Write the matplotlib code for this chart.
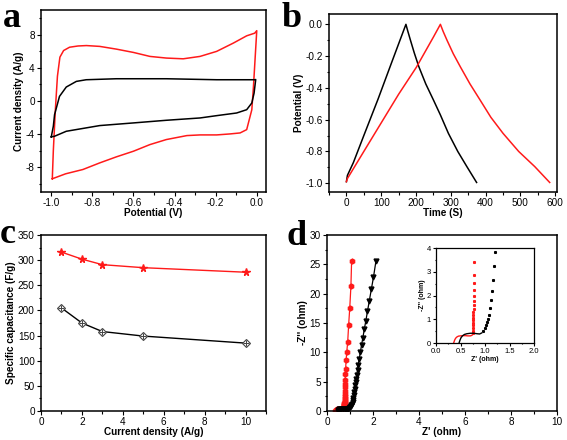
import numpy as np
import matplotlib
matplotlib.use('Agg')
import matplotlib.pyplot as plt
from matplotlib.ticker import AutoMinorLocator

plt.rcParams['font.family'] = ['Liberation Sans', 'DejaVu Sans']
plt.rcParams['axes.unicode_minus'] = False

# (a) CV loops
red_cv_v = [-0.995, -0.99, -0.98, -0.97, -0.958, -0.94, -0.911, -0.87, -0.829, -0.764, -0.683, -0.6, -0.52,
            -0.44, -0.358, -0.276, -0.195, -0.114, -0.049, -0.01, 0.0,
            -0.016, -0.024, -0.049, -0.081, -0.13, -0.195, -0.276, -0.34, -0.44, -0.52, -0.6, -0.683,
            -0.764, -0.846, -0.93, -0.995]
red_cv_i = [-9.4, -6.0, -1.0, 3.0, 5.3, 6.1, 6.5, 6.65, 6.7, 6.6, 6.27, 5.87, 5.39,
            5.19, 5.1, 5.39, 6.0, 7.0, 7.88, 8.2, 8.5,
            1.77, -1.05, -3.46, -3.86, -3.98, -4.1, -4.1, -4.18, -4.66, -5.27, -6.07, -6.75,
            -7.48, -8.28, -8.8, -9.4]
black_cv_v = [-1.0, -0.99, -0.984, -0.96, -0.927, -0.878, -0.83, -0.683, -0.44, -0.195, -0.049, -0.008,
              -0.005, -0.013, -0.024, -0.049, -0.098, -0.195, -0.276, -0.44, -0.6, -0.764, -0.927, -0.984, -1.0]
black_cv_i = [-4.34, -3.05, -1.65, 0.56, 1.69, 2.37, 2.57, 2.69, 2.69, 2.57, 2.57, 2.57,
              2.6, 0.96, -0.24, -1.05, -1.45, -1.77, -2.05, -2.33, -2.65, -2.97, -3.66, -4.26, -4.34]

# (b) charge/discharge
black_gcd_t = [0, 3, 20, 50, 91, 130, 171, 176, 184, 195, 208, 228, 250, 270, 293, 320, 346, 374]
black_gcd_v = [-0.99, -0.95, -0.87, -0.70, -0.47, -0.24, 0.0, -0.04, -0.10, -0.18, -0.266, -0.375,
               -0.476, -0.57, -0.686, -0.80, -0.895, -0.995]
red_gcd_t = [0, 3, 50, 100, 150, 201, 250, 270, 278, 289, 307, 327, 355, 384, 415, 450, 495, 541, 584]
red_gcd_v = [-0.99, -0.97, -0.80, -0.62, -0.44, -0.27, -0.08, 0.0, -0.045, -0.10, -0.185, -0.266,
             -0.375, -0.476, -0.585, -0.686, -0.80, -0.895, -0.995]

# (c) rate capability
current = [1, 2, 3, 5, 10]
red_cap = [316, 302, 291, 285, 276]
black_cap = [205, 175, 158, 149, 135]

# (d) Nyquist
red_arc_re = [0.36, 0.38, 0.40, 0.43, 0.46, 0.50, 0.55, 0.60, 0.65, 0.70, 0.73, 0.75, 0.76]
red_arc_im = [0.0, 0.12, 0.20, 0.26, 0.29, 0.30, 0.31, 0.31, 0.30, 0.30, 0.32, 0.36, 0.40]
red_tail_re = [0.76, 0.76, 0.76, 0.76, 0.76, 0.76, 0.76, 0.76, 0.76, 0.77, 0.77, 0.77, 0.77, 0.77, 0.77,
               0.77, 0.77, 0.78, 0.78, 0.79, 0.80, 0.81, 0.83, 0.86, 0.90, 0.94, 0.99, 1.04, 1.07]
red_tail_im = [0.42, 0.52, 0.63, 0.74, 0.84, 0.95, 1.05, 1.16, 1.29, 1.43, 1.60, 1.78, 1.99, 2.25, 2.53,
               2.88, 3.40, 4.1, 4.67, 5.35, 6.26, 7.2, 8.65, 10.1, 11.8, 14.6, 17.6, 21.3, 25.6]
black_arc_re = [0.47, 0.49, 0.51, 0.54, 0.58, 0.63, 0.70, 0.77, 0.84, 0.89, 0.93]
black_arc_im = [0.0, 0.12, 0.22, 0.30, 0.36, 0.39, 0.41, 0.41, 0.39, 0.38, 0.42]
black_tail_re = [0.96, 0.99, 1.02, 1.04, 1.06, 1.09, 1.11, 1.13, 1.14, 1.17, 1.18, 1.21,
                 1.23, 1.25, 1.27, 1.29, 1.33, 1.36, 1.40, 1.45, 1.50, 1.56, 1.62, 1.69, 1.76,
                 1.84, 1.93, 2.02, 2.13]
black_tail_im = [0.52, 0.63, 0.74, 0.87, 1.01, 1.19, 1.47, 1.82, 2.18, 2.67, 3.23, 3.83,
                 4.35, 4.9, 5.5, 6.2, 7.0, 7.9, 8.9, 10.0, 11.2, 12.5, 13.9, 15.4, 17.0,
                 18.8, 20.8, 22.8, 25.6]

# tick labels
a_xticks = [-1.0, -0.8, -0.6, -0.4, -0.2, 0.0]
a_xlabels = ['-1.0', '-0.8', '-0.6', '-0.4', '-0.2', '0.0']
b_yticks = [-1.0, -0.8, -0.6, -0.4, -0.2, 0.0]
b_ylabels = ['-1.0', '-0.8', '-0.6', '-0.4', '-0.2', '0.0']
ins_xticks = [0.0, 0.5, 1.0, 1.5, 2.0]
ins_xlabels = ['0.0', '0.5', '1.0', '1.5', '2.0']

RED = '#ff1a1a'
TS = 7.2    # tick font size
LS = 7.2    # label font size


def style(ax, fs=TS, lw=1.1):
    for s in ax.spines.values():
        s.set_linewidth(lw)
    ax.tick_params(which='both', direction='out', top=False, right=False, labelsize=fs, width=0.8, pad=1.5)
    ax.tick_params(which='major', length=3)
    ax.tick_params(which='minor', length=1.8)
    ax.xaxis.set_minor_locator(AutoMinorLocator(2))
    ax.yaxis.set_minor_locator(AutoMinorLocator(2))


fig = plt.figure(figsize=(5.67, 4.4), dpi=100)
W, H = 567.0, 440.0


def box(l, r, t, b):
    return [l / W, 1 - b / H, (r - l) / W, (b - t) / H]


# a
ax = fig.add_axes(box(41, 266, 10, 192))
ax.plot(red_cv_v, red_cv_i, color=RED, lw=1.1)
ax.plot(black_cv_v, black_cv_i, color='black', lw=1.1)
ax.set_xlim(-1.05, 0.045)
ax.set_ylim(-11, 11)
ax.set_xticks(a_xticks, a_xlabels)
ax.set_yticks([-8, -4, 0, 4, 8])
style(ax)
ax.set_xlabel('Potential (V)', fontsize=LS, fontweight='bold', labelpad=0)
ax.set_ylabel('Current density (A/g)', fontsize=LS, fontweight='bold', labelpad=1)

# b
ax = fig.add_axes(box(329, 557, 14, 192))
ax.plot(black_gcd_t, black_gcd_v, color='black', lw=1.1)
ax.plot(red_gcd_t, red_gcd_v, color=RED, lw=1.1)
ax.set_xlim(-50, 605)
ax.set_ylim(-1.055, 0.065)
ax.set_xticks(np.arange(0, 601, 100))
ax.set_yticks(b_yticks, b_ylabels)
style(ax)
ax.set_xlabel('Time (S)', fontsize=LS, fontweight='bold', labelpad=0)
ax.set_ylabel('Potential (V)', fontsize=LS, fontweight='bold', labelpad=1)

# c
ax = fig.add_axes(box(41, 266, 235, 411))
ax.plot(current, red_cap, color=RED, lw=1.0, marker='*', ms=5.5, mfc=RED, mec=RED)
ax.plot(current, black_cap, color='black', lw=1.0, marker='D', ms=4.5, mfc='white', mec='#444444', mew=0.8)
ax.plot(current, black_cap, ls='none', marker='+', ms=4.5, mec='#444444', mew=0.7)
ax.set_xlim(0, 11)
ax.set_ylim(0, 350)
ax.set_xticks(np.arange(0, 11, 2))
ax.set_yticks(np.arange(0, 351, 50))
style(ax)
ax.set_xlabel('Current density (A/g)', fontsize=LS, fontweight='bold', labelpad=0)
ax.set_ylabel('Specific capacitance (F/g)', fontsize=LS, fontweight='bold', labelpad=1)

# d
ax = fig.add_axes(box(327, 557, 235, 411))
ax.plot(red_arc_re + red_tail_re, red_arc_im + red_tail_im, color=RED, lw=0.9,
        marker='h', ms=3.5, mfc=RED, mec=RED)
ax.plot(black_arc_re + black_tail_re, black_arc_im + black_tail_im, color='black', lw=0.9,
        marker='v', ms=3.5, mfc='black', mec='black')
ax.set_xlim(0, 10)
ax.set_ylim(0, 30)
ax.set_xticks(np.arange(0, 11, 2))
ax.set_yticks(np.arange(0, 31, 5))
style(ax)
ax.set_xlabel("Z' (ohm)", fontsize=LS, fontweight='bold', labelpad=0)
ax.set_ylabel("-Z'' (ohm)", fontsize=LS, fontweight='bold', labelpad=1)

# inset
ins = fig.add_axes(box(436, 534, 248, 343))
ins.plot(red_arc_re, red_arc_im, color=RED, lw=1.0)
ins.plot(red_tail_re, red_tail_im, ls='none', marker='s', ms=1.2, mfc=RED, mec=RED)
ins.plot(black_arc_re, black_arc_im, color='black', lw=1.0)
ins.plot(black_tail_re, black_tail_im, ls='none', marker='s', ms=1.2, mfc='black', mec='black')
ins.set_xlim(0, 2.0)
ins.set_ylim(0, 4)
ins.set_xticks(ins_xticks, ins_xlabels)
ins.set_yticks([0, 1, 2, 3, 4])
style(ins, fs=5.5, lw=0.9)
ins.tick_params(which='major', length=2)
ins.tick_params(which='minor', length=1)
ins.set_xlabel("Z' (ohm)", fontsize=5, fontweight='bold', labelpad=1)
ins.set_ylabel("-Z'' (ohm)", fontsize=5, fontweight='bold', labelpad=1)

# panel letters
for txt, x, y in [('a', 3, 27), ('b', 282, 27), ('c', 0, 243), ('d', 287, 245)]:
    fig.text(x / W, 1 - y / H, txt, fontsize=26, fontweight='bold',
             family=['Liberation Serif', 'DejaVu Serif'], va='baseline', ha='left')

fig.savefig('out.png', dpi=100)
